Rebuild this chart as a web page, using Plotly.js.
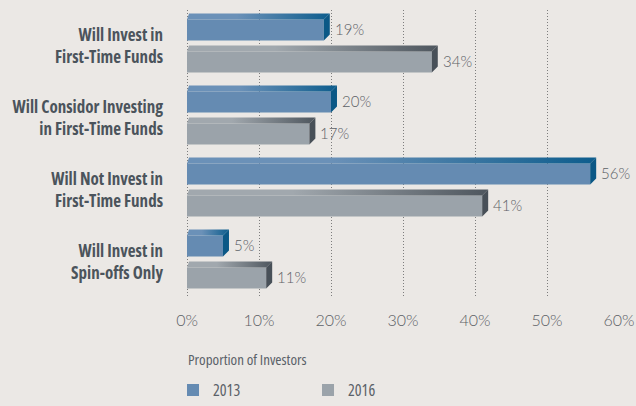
<!DOCTYPE html>
<html>
<head>
<meta charset="utf-8">
<script src="https://cdn.plot.ly/plotly-3.0.1.min.js"></script>
<style>
  html, body { margin: 0; padding: 0; background: #ebe8e5; }
  .ytick text, .legendtext, .annotation[data-index="8"] text { font-stretch: 75% !important; }
</style>
</head>
<body>
<div id="chart" style="width:636px;height:406px"></div>
<script>
// chart data
const categories = [
  "Will Invest in<br>First-Time Funds",
  "Will Considor Investing<br>in First-Time Funds",
  "Will Not Invest in<br>First-Time Funds",
  "Will Invest in<br>Spin-offs Only"
];
const years = ["2013", "2016"];
const values2013 = [19, 20, 56, 5];
const values2016 = [34, 17, 41, 11];
const xTicks = [0, 10, 20, 30, 40, 50, 60];

const positions = categories.map((c, i) => i);

// look of the fake 3d bars
const narrow = "'Open Sans', 'Liberation Sans Narrow', 'DejaVu Sans Condensed', sans-serif";
const light = "Lato, 'Open Sans', sans-serif";
const barWidth = 0.29;
const offsets = [-0.367, 0.077];
const depthX = 0.83;   // ~6px
const depthY = 0.083;  // ~6px
const bevel = 0.28;

const styles = [
  { front: "#658bb2", topLight: "#6b91b8", topDark: "#0d5d8d", side: "#0b5886" },
  { front: "#9ba3aa", topLight: "#a1a8ae", topDark: "#4e565e", side: "#485058" }
];

let traces = [];
let sideTraces = [];
let topTraces = [];

[values2013, values2016].forEach(function (vals, k) {
  let st = styles[k];
  traces.push({
    type: "bar",
    orientation: "h",
    name: years[k],
    x: vals,
    y: positions,
    width: barWidth,
    offset: offsets[k],
    marker: { color: st.front, line: { width: 0 } },
    hoverinfo: "x+name"
  });

  // side faces, one trace per year
  let sx = [], sy = [];
  vals.forEach(function (v, i) {
    let y0 = i + offsets[k];
    sx.push(v, v + depthX, v + depthX, v, v, null);
    sy.push(y0, y0 - depthY, y0 + barWidth - depthY, y0 + barWidth, y0, null);

    // top face with gradient
    topTraces.push({
      type: "scatter",
      mode: "lines",
      x: [0, bevel, v + depthX, v, 0],
      y: [y0, y0 - depthY, y0 - depthY, y0, y0],
      fill: "toself",
      fillgradient: {
        type: "horizontal",
        start: 0,
        stop: v + depthX,
        colorscale: [[0, st.topLight], [0.35, st.topLight], [1, st.topDark]]
      },
      line: { width: 0 },
      showlegend: false,
      hoverinfo: "skip"
    });
  });
  sideTraces.push({
    type: "scatter",
    mode: "lines",
    x: sx,
    y: sy,
    fill: "toself",
    fillcolor: st.side,
    line: { width: 0 },
    showlegend: false,
    hoverinfo: "skip"
  });
});

// value labels
let annotations = [];
[values2013, values2016].forEach(function (vals, k) {
  vals.forEach(function (v, i) {
    annotations.push({
      x: v, y: i + offsets[k] + barWidth / 2,
      xref: "x", yref: "y",
      text: v + "%",
      showarrow: false,
      xanchor: "left",
      xshift: 9,
      yshift: 1,
      font: { family: light, size: 15, color: "#5d6166", weight: 300 }
    });
  });
});

annotations.push({
  x: 0, y: -0.212, xref: "paper", yref: "paper",
  text: "Proportion of Investors",
  showarrow: false,
  xanchor: "left", yanchor: "middle", align: "left",
  font: { family: narrow, size: 15, color: "#5a6168" }
});

let layout = {
  width: 636,
  height: 406,
  paper_bgcolor: "#ebe8e5",
  plot_bgcolor: "#ebe8e5",
  margin: { l: 186, r: 17, t: 10, b: 108, autoexpand: false },
  barmode: "overlay",
  showlegend: true,
  legend: {
    orientation: "h",
    x: -0.03, xanchor: "left",
    y: -0.32, yanchor: "middle",
    entrywidth: 90,
    traceorder: "normal",
    font: { family: narrow, size: 16, color: "#5a6168" },
    bgcolor: "rgba(0,0,0,0)"
  },
  xaxis: {
    range: [-0.14, 60],
    tickvals: xTicks,
    ticktext: xTicks.map(v => v + "%"),
    showgrid: true,
    gridcolor: "#7d7d7d",
    griddash: "1px,2px",
    gridwidth: 1,
    zeroline: false,
    showline: false,
    ticks: "",
    ticklabelstandoff: 11,
    tickfont: { family: light, size: 16, color: "#5d6166", weight: 300 },
    fixedrange: true
  },
  yaxis: {
    range: [3.5, -0.5],
    tickvals: positions,
    ticktext: categories,
    showgrid: false,
    zeroline: false,
    showline: false,
    ticks: "",
    ticklabelstandoff: 22,
    tickfont: { family: narrow, size: 17, color: "#4b545c", weight: "bold" },
    fixedrange: true
  },
  annotations: annotations
};

Plotly.newPlot("chart", traces.concat(topTraces, sideTraces), layout, { displayModeBar: false, staticPlot: true });
</script>
</body>
</html>
